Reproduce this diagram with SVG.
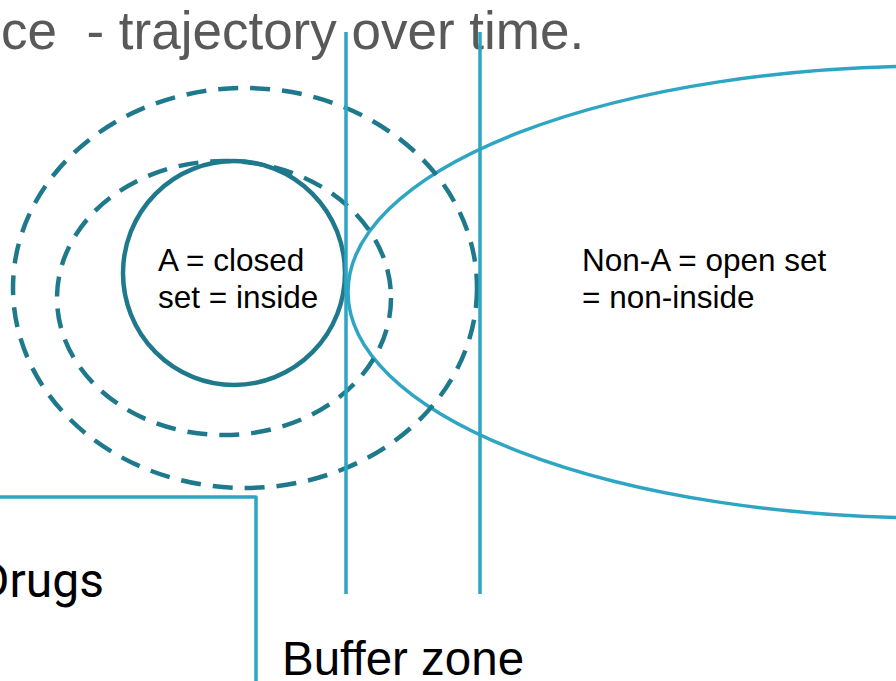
<svg xmlns="http://www.w3.org/2000/svg" width="896" height="681" viewBox="0 0 896 681">
  <style>
    .dark { fill: none; stroke: #1f798c; stroke-width: 4.5; }
    .dash { stroke-dasharray: 20 12; }
    .light { fill: none; stroke: #2fa5c4; stroke-width: 3.5; }
    .lbl { font-family: "Liberation Sans", Arial, sans-serif; fill: #000; }
  </style>
  <rect x="0" y="0" width="896" height="681" fill="#ffffff"/>

  <g id="title">
    <text class="lbl" x="1" y="49" font-size="53" style="fill:#595959;white-space:pre" xml:space="preserve">ce  - trajectory over time.</text>
  </g>

  <g id="non-a">
    <ellipse class="light" cx="935" cy="292" rx="587" ry="226"/>
    <text class="lbl" x="582" y="271" font-size="31.5">Non-A = open set</text>
    <text class="lbl" x="582" y="308" font-size="31.5">= non-inside</text>
  </g>

  <g id="outer-boundary">
    <ellipse class="dark dash" cx="245" cy="288" rx="232" ry="200"/>
  </g>

  <g id="middle-boundary">
    <ellipse class="dark dash" cx="224" cy="298" rx="167" ry="137"/>
  </g>

  <g id="a-set">
    <ellipse class="dark" cx="234" cy="273" rx="111" ry="112"/>
    <text class="lbl" x="158" y="271" font-size="31.5">A = closed</text>
    <text class="lbl" x="158" y="308" font-size="31.5">set = inside</text>
  </g>

  <g id="drugs">
    <path class="light" d="M -5 497 L 256 497 L 256 690" stroke-linejoin="round"/>
    <text x="-22" y="597" font-size="48" font-family="Roboto, 'Liberation Sans', sans-serif" fill="#000">Drugs</text>
  </g>

  <g id="buffer-zone">
    <text class="lbl" x="282" y="675" font-size="47.5">Buffer zone</text>
  </g>

  <g id="connectors">
    <line class="light" x1="346" y1="32" x2="346" y2="594" stroke-width="4"/>
    <line class="light" x1="480" y1="32" x2="480" y2="594" stroke-width="4"/>
  </g>
</svg>
